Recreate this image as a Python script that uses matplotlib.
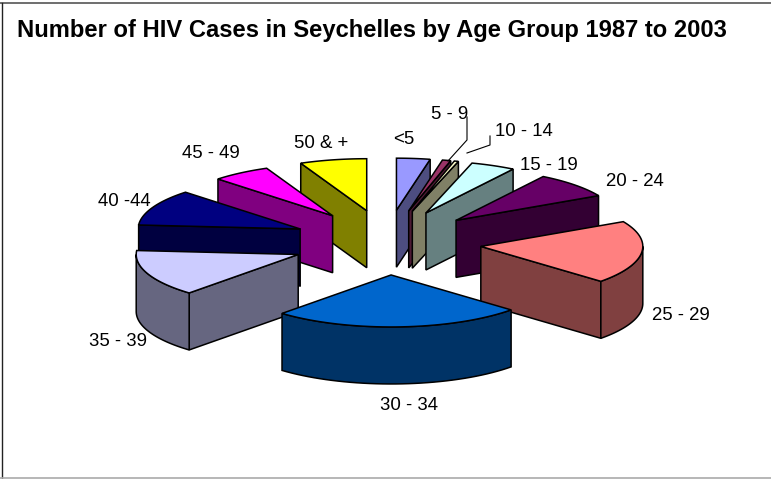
import matplotlib
matplotlib.use("Agg")
import matplotlib.pyplot as plt
import matplotlib.colors as mcolors
from matplotlib.patches import Polygon
import numpy as np

plt.rcParams['font.family'] = ['Liberation Sans', 'DejaVu Sans']

# age groups, clockwise from 12 o'clock
groups = ["<5", "5 - 9", "10 - 14", "15 - 19", "20 - 24", "25 - 29",
          "30 - 34", "35 - 39", "40 -44", "45 - 49", "50 & +"]
# values
cases = [24, 6, 3, 32, 58, 141, 180, 104, 81, 42, 48]
colors = ["#9999FF", "#993366", "#FFFFCC", "#CCFFFF", "#660066", "#FF8080",
          "#0066CC", "#CCCCFF", "#000080", "#FF00FF", "#FFFF00"]
label_x = [404, 450, 524, 549, 635, 681, 409, 118, 124, 211, 321]
label_y = [140, 114, 131, 166, 182, 315, 405, 341, 202, 154, 143]

title = "Number of HIV Cases in Seychelles by Age Group 1987 to 2003"

# 3D look of the pie, in pixels
CX, CY = 386.5, 242.5
RX, RY = 162, 52
EX, EY = 95, 32.5
DEPTH = 57
LW = 1.1


def rim_point(theta, ax0, ay0):
    return ax0 + RX * np.sin(theta), ay0 - RY * np.cos(theta)


def draw_slice(ax, a0, a1, color, z):
    mid = (a0 + a1) / 2
    px = CX + EX * np.sin(mid)
    py = CY - EY * np.cos(mid)
    side = np.array(mcolors.to_rgb(color)) * 0.5

    # flat faces, only the ones turned to the viewer
    x0, y0 = rim_point(a0, px, py)
    x1, y1 = rim_point(a1, px, py)
    for (xa, ya), (xb, yb) in [((px, py), (x0, y0)), ((x1, y1), (px, py))]:
        if xb < xa - 0.01:
            face = [(xa, ya), (xb, yb), (xb, yb + DEPTH), (xa, ya + DEPTH)]
            ax.add_patch(Polygon(face, fc=side, ec="black", lw=LW, zorder=z))

    # curved outer face, front half only
    lo, hi = max(a0, np.pi / 2), min(a1, 3 * np.pi / 2)
    if hi > lo:
        t = np.linspace(lo, hi, 40)
        xs, ys = rim_point(t, px, py)
        outer = np.concatenate([np.c_[xs, ys], np.c_[xs, ys + DEPTH][::-1]])
        ax.add_patch(Polygon(outer, fc=side, ec="black", lw=LW, zorder=z))

    t = np.linspace(a0, a1, 40)
    xs, ys = rim_point(t, px, py)
    top = np.vstack([[px, py], np.c_[xs, ys]])
    ax.add_patch(Polygon(top, fc=color, ec="black", lw=LW, zorder=z))


fig = plt.figure(figsize=(7.71, 4.79), dpi=100)
ax = fig.add_axes([0, 0, 1, 1])
ax.set_xlim(0, 771)
ax.set_ylim(479, 0)
ax.axis("off")

edges = np.concatenate([[0], np.cumsum(cases)]) / np.sum(cases) * 2 * np.pi
mids = (edges[:-1] + edges[1:]) / 2

# back slices first
for z, i in enumerate(np.argsort(-np.cos(mids))):
    draw_slice(ax, edges[i], edges[i + 1], colors[i], 2 + z)

for name, x, y in zip(groups, label_x, label_y):
    ax.text(x, y, name, fontsize=13.4, ha="center", va="center", color="black", zorder=20)

ax.text(17, 30.5, title, fontsize=17.1, fontweight="bold", ha="left", va="center", zorder=20)

# leader lines for the two thin slices
ax.plot([467, 467, 448], [117, 140, 161], color="black", lw=0.8, zorder=20)
ax.plot([490, 490, 467], [136, 145, 153], color="black", lw=0.8, zorder=20)

# chart frame
ax.plot([0, 771], [2.5, 2.5], color="#555555", lw=1.2, zorder=1)
ax.plot([1.5, 1.5], [2.5, 479], color="#222222", lw=1, zorder=1)
ax.plot([0, 771], [478, 478], color="#aaaaaa", lw=1.2, zorder=1)

fig.savefig("out.png", dpi=100, facecolor="white")
